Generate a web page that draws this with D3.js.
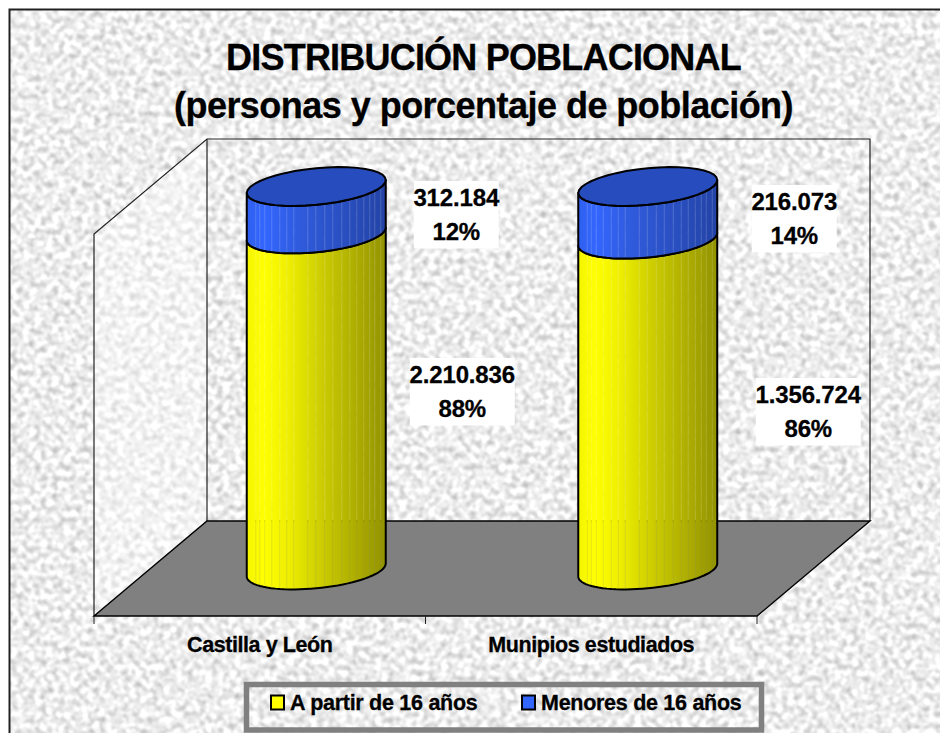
<!DOCTYPE html>
<html>
<head>
<meta charset="utf-8">
<script src="https://cdn.jsdelivr.net/npm/d3@7"></script>
<style>
  html, body { margin: 0; padding: 0; background: #fff; overflow: hidden; }
  svg { display: block; }
  text { font-family: "Liberation Sans", Arial, sans-serif; font-weight: bold; fill: #000; stroke: #000; stroke-width: 0.3; }
</style>
</head>
<body>
<div id="chart"></div>
<script>
//////////////////////////////////////////////////////////////////////////////
// Data

var categories = ["Castilla y León", "Munipios estudiados"];
var seriesNames = ["A partir de 16 años", "Menores de 16 años"];
var mayores = [2210836, 1356724];
var menores = [312184, 216073];
var mayoresLabel = ["2.210.836", "1.356.724"];
var menoresLabel = ["312.184", "216.073"];
var mayoresPct = ["88%", "86%"];
var menoresPct = ["12%", "14%"];
var titleLines = ["DISTRIBUCIÓN POBLACIONAL", "(personas y porcentaje de población)"];

//////////////////////////////////////////////////////////////////////////////
// Layout

var width = 940, height = 733;
var plot = { left: 94, right: 757, front: 616, back: 521, top: 139 };
var depthX = 113;
var depthY = plot.front - plot.back;

// where the label boxes were left by hand in the original, relative to the band centre
var labelLayout = [
  { series: 1, cat: 0, dx: 196.5, top: 181, w: 85 },
  { series: 0, cat: 0, dx: 202.5, top: 358, w: 105 },
  { series: 1, cat: 1, dx: 203, top: 185, w: 85 },
  { series: 0, cat: 1, dx: 217, top: 378, w: 105 }
];
var facets = [9, 13, 18, 25, 33, 40, 47, 61, 69, 78, 86, 95, 103, 110, 117, 123, 128, 134];

var svg = d3.select("#chart").append("svg")
    .attr("width", width)
    .attr("height", height);
var defs = svg.append("defs");

//////////////////////////////////////////////////////////////////////////////
// Paper texture for the background

var noise = defs.append("filter")
    .attr("id", "paper")
    .attr("x", 0).attr("y", 0).attr("width", 1).attr("height", 1)
    .attr("color-interpolation-filters", "sRGB");
noise.append("feTurbulence")
    .attr("type", "fractalNoise")
    .attr("baseFrequency", 0.17)
    .attr("numOctaves", 3)
    .attr("seed", 7);
noise.append("feGaussianBlur")
    .attr("stdDeviation", 0.9);
noise.append("feColorMatrix")
    .attr("type", "matrix")
    .attr("values", "0.6 0 0 0 0.63  0.6 0 0 0 0.63  0.6 0 0 0 0.63  0 0 0 0 1");

svg.append("rect")
    .attr("x", 9).attr("y", 9)
    .attr("width", width).attr("height", height)
    .attr("filter", "url(#paper)");
svg.append("path")
    .attr("d", d3.line()([[9.5, height], [9.5, 9.5], [width, 9.5]]))
    .attr("fill", "none")
    .attr("stroke", "#222")
    .attr("stroke-width", 2);

//////////////////////////////////////////////////////////////////////////////
// Scales

var xScale = d3.scaleBand().domain(categories).range([plot.left, plot.right]);
var yScale = d3.scaleLinear().domain([0, 1]).range([570, 186.5]);

var colorScale = d3.scaleOrdinal().domain(seriesNames).range(["url(#gradYellow)", "url(#gradBlue)"]);

var rows = categories.map(function(c, i) {
  return { cat: c, [seriesNames[0]]: mayores[i], [seriesNames[1]]: menores[i] };
});
var stacked = d3.stack().keys(seriesNames).offset(d3.stackOffsetExpand)(rows);

function addGradient(id, stops) {
  var g = defs.append("linearGradient").attr("id", id);
  stops.forEach(function(s) {
    g.append("stop").attr("offset", s[0]).attr("stop-color", s[1]);
  });
}
addGradient("gradYellow", [[0, "#f4f400"], [0.12, "#ffff00"], [0.3, "#eeee00"], [0.6, "#c4c400"], [1, "#929200"]]);
addGradient("gradBlue", [[0, "#2f5fee"], [0.12, "#3366ff"], [0.4, "#2f5ada"], [1, "#2343a6"]]);

//////////////////////////////////////////////////////////////////////////////
// Walls and floor

var line = d3.line();
svg.append("path")
    .attr("d", line([[plot.left, plot.top + depthY], [plot.left + depthX, plot.top],
                     [plot.left + depthX, plot.back], [plot.left, plot.front]]) + "Z")
    .attr("fill", "#fff")
    .attr("fill-opacity", 0.35);
svg.append("path")
    .attr("d", line([[plot.left, plot.front], [plot.left, plot.top + depthY],
                     [plot.left + depthX, plot.top], [plot.right + depthX, plot.top],
                     [plot.right + depthX, plot.back]]))
    .attr("fill", "none")
    .attr("stroke", "#222")
    .attr("stroke-width", 1.2);
svg.append("line")
    .attr("x1", plot.left + depthX).attr("x2", plot.left + depthX)
    .attr("y1", plot.top).attr("y2", plot.back)
    .attr("stroke", "#222")
    .attr("stroke-width", 1.2);
svg.append("path")
    .attr("d", line([[plot.left, plot.front], [plot.left + depthX, plot.back],
                     [plot.right + depthX, plot.back], [plot.right, plot.front]]) + "Z")
    .attr("fill", "#808080")
    .attr("stroke", "#000")
    .attr("stroke-width", 1.4);

//////////////////////////////////////////////////////////////////////////////
// Cylinders

var rx = 69.5, ry = 18.3, skew = 6.5;

function arc(cx, cy, from, to) {
  return d3.range(0, 41).map(function(i) {
    var t = from + (to - from) * i / 40;
    return [cx + rx * Math.cos(t), cy - skew * Math.cos(t) + ry * Math.sin(t)];
  });
}
function bodyPath(cx, y0, y1) {
  return line(arc(cx, y0, Math.PI, 0).concat(arc(cx, y1, 0, Math.PI))) + "Z";
}
function centre(cat) {
  return xScale(cat) + xScale.bandwidth() / 2 + depthX / 2;
}

categories.forEach(function(cat, i) {
  var cx = centre(cat);
  var mask = defs.append("mask")
      .attr("id", "facets" + i)
      .attr("maskUnits", "userSpaceOnUse")
      .attr("x", 0).attr("y", 0).attr("width", width).attr("height", height);
  mask.append("rect").attr("width", width).attr("height", height).attr("fill", "#fff");
  mask.selectAll("line").data(facets).enter().append("line")
      .attr("x1", function(d) { return cx - rx + d; })
      .attr("x2", function(d) { return cx - rx + d; })
      .attr("y1", 0).attr("y2", height)
      .attr("stroke", "#d0d0d0")
      .attr("stroke-width", 1);
});

var layers = svg.selectAll("g.layer")
    .data(stacked)
    .enter().append("g")
    .attr("class", "layer");

layers.selectAll("path.fill")
    .data(function(s) {
      return s.map(function(d, i) { return { key: s.key, y0: d[0], y1: d[1], cat: categories[i], i: i }; });
    })
    .enter().append("path")
    .attr("class", "fill")
    .attr("d", function(d) { return bodyPath(centre(d.cat), yScale(d.y0), yScale(d.y1)); })
    .attr("fill", function(d) { return colorScale(d.key); })
    .attr("mask", function(d) { return "url(#facets" + d.i + ")"; });

layers.selectAll("path.edge")
    .data(function(s) {
      return s.map(function(d, i) { return { y0: d[0], y1: d[1], cat: categories[i] }; });
    })
    .enter().append("path")
    .attr("class", "edge")
    .attr("d", function(d) { return bodyPath(centre(d.cat), yScale(d.y0), yScale(d.y1)); })
    .attr("fill", "none")
    .attr("stroke", "#000")
    .attr("stroke-width", 2)
    .attr("stroke-linejoin", "round");

svg.selectAll("path.cap")
    .data(categories)
    .enter().append("path")
    .attr("class", "cap")
    .attr("d", function(c) { return line(arc(centre(c), yScale(1), 0, 2 * Math.PI)) + "Z"; })
    .attr("fill", "#274cbd")
    .attr("stroke", "#000")
    .attr("stroke-width", 2);

//////////////////////////////////////////////////////////////////////////////
// Axis

var axis = svg.append("g")
    .attr("transform", "translate(0," + plot.front + ")")
    .call(d3.axisBottom(xScale).tickSize(0).tickPadding(20.5));
axis.select(".domain").remove();
axis.selectAll("text")
    .style("font-family", "'Liberation Sans', Arial, sans-serif")
    .style("font-size", "21.5px")
    .style("font-weight", "bold")
    .attr("letter-spacing", -0.42);
axis.selectAll("line.edge-tick")
    .data(d3.range(categories.length + 1))
    .enter().append("line")
    .attr("class", "edge-tick")
    .attr("x1", function(d) { return plot.left + d * xScale.step(); })
    .attr("x2", function(d) { return plot.left + d * xScale.step(); })
    .attr("y1", 0).attr("y2", 8)
    .attr("stroke", "#222");

//////////////////////////////////////////////////////////////////////////////
// Value labels

var labelValues = [menoresLabel, mayoresLabel];
var labelPcts = [menoresPct, mayoresPct];
// labelLayout series: 0 = mayores, 1 = menores
var labels = svg.selectAll("g.value")
    .data(labelLayout)
    .enter().append("g")
    .attr("class", "value")
    .attr("transform", function(d) {
      return "translate(" + (xScale(categories[d.cat]) + xScale.bandwidth() / 2 + d.dx) + "," + d.top + ")";
    });
labels.append("rect")
    .attr("x", function(d) { return -d.w / 2; })
    .attr("width", function(d) { return d.w; })
    .attr("height", 67.5)
    .attr("fill", "#fff");
labels.append("text")
    .attr("text-anchor", "middle")
    .attr("y", 25)
    .attr("font-size", 24)
    .attr("letter-spacing", -0.15)
    .text(function(d) { return labelValues[1 - d.series][d.cat]; });
labels.append("text")
    .attr("text-anchor", "middle")
    .attr("y", 59)
    .attr("font-size", 24)
    .attr("letter-spacing", -0.15)
    .text(function(d) { return labelPcts[1 - d.series][d.cat]; });

//////////////////////////////////////////////////////////////////////////////
// Title

var titleSpacing = [-0.8, -0.53];
svg.selectAll("text.title")
    .data(titleLines)
    .enter().append("text")
    .attr("class", "title")
    .attr("x", 483.5)
    .attr("y", function(d, i) { return 69.5 + i * 48; })
    .attr("text-anchor", "middle")
    .attr("font-size", 36)
    .attr("letter-spacing", function(d, i) { return titleSpacing[i]; })
    .text(function(d) { return d; });

//////////////////////////////////////////////////////////////////////////////
// Legend

svg.append("rect")
    .attr("x", 246.5).attr("y", 684.5)
    .attr("width", 515).attr("height", 45.5)
    .attr("fill", "none")
    .attr("stroke", "#808080")
    .attr("stroke-width", 5.5);

var swatchColors = ["#ffff00", "#3366ff"];
var legendX = d3.scaleOrdinal().domain(seriesNames).range([271, 522]);
var legend = svg.selectAll("g.legend")
    .data(seriesNames)
    .enter().append("g")
    .attr("class", "legend")
    .attr("transform", function(d) { return "translate(" + legendX(d) + ",695.5)"; });
legend.append("rect")
    .attr("width", 13).attr("height", 14)
    .attr("fill", function(d, i) { return swatchColors[i]; })
    .attr("stroke", "#000")
    .attr("stroke-width", 2);
legend.append("text")
    .attr("x", 19)
    .attr("y", 14.5)
    .attr("font-size", 21.5)
    .attr("letter-spacing", -0.28)
    .text(function(d) { return d; });
</script>
</body>
</html>
